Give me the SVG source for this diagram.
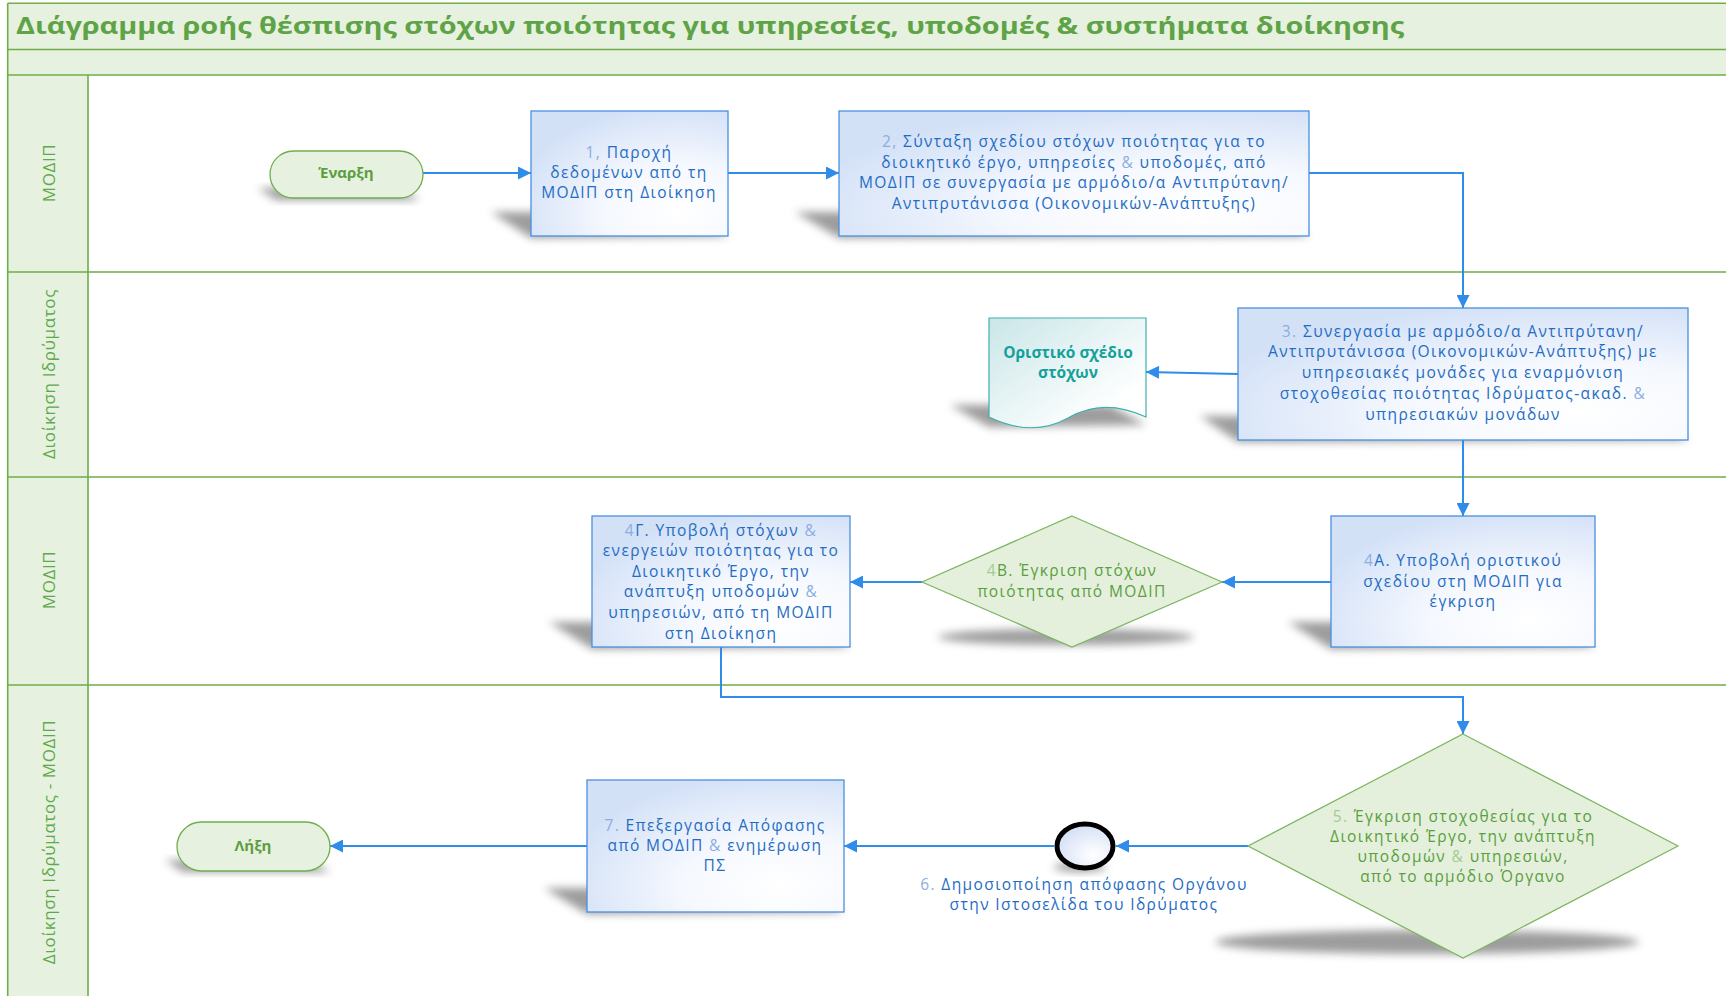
<svg xmlns="http://www.w3.org/2000/svg" width="1726" height="996" viewBox="0 0 1726 996">
<style>
.band{fill:#e6f1e0;stroke:none}
.gl{stroke:#70ad47;stroke-width:1.6;fill:none}
.title{font-family:"Open Sans","Liberation Sans",sans-serif;font-weight:bold;font-size:24px;fill:#5ea345}
.lane{font-family:"Open Sans","Liberation Sans",sans-serif;font-size:17px;fill:#5eaa4a;text-anchor:middle;letter-spacing:0.6px}
.box{fill:url(#boxg);stroke:#4a8fdf;stroke-width:1.3}
.bt{font-family:"Open Sans","Liberation Sans",sans-serif;font-size:15.5px;fill:#1f6dc4;text-anchor:middle;letter-spacing:1.4px}
.lb{fill:#8aaee0}
.dia{fill:#e4f0dc;stroke:#7cb560;stroke-width:1.2}
.dt{font-family:"Open Sans","Liberation Sans",sans-serif;font-size:15.5px;fill:#5b9e40;text-anchor:middle;letter-spacing:1.4px}
.lg{fill:#a3cc90}
.term{fill:#e6f1e0;stroke:#6fae4f;stroke-width:1.3}
.tt{font-family:"Open Sans","Liberation Sans",sans-serif;font-size:15px;font-weight:bold;fill:#5b9e40;text-anchor:middle}
.con{fill:none;stroke:#2f8ce8;stroke-width:2;marker-end:url(#ah)}
.sh{fill:#4d4d4d;opacity:0.55;filter:url(#blur)}
</style>
<defs>
<radialGradient id="boxg" cx="0.75" cy="0.8" r="0.85">
<stop offset="0" stop-color="#ffffff"/>
<stop offset="0.45" stop-color="#f5f8fe"/>
<stop offset="1" stop-color="#d3e1f7"/>
</radialGradient>
<linearGradient id="docg" x1="0" y1="0" x2="1" y2="1">
<stop offset="0" stop-color="#c9e6e8"/>
<stop offset="0.8" stop-color="#ffffff"/>
</linearGradient>
<radialGradient id="circg" cx="0.65" cy="0.7" r="0.8">
<stop offset="0" stop-color="#ffffff"/>
<stop offset="1" stop-color="#cfdcf5"/>
</radialGradient>
<filter id="blur" x="-50%" y="-50%" width="200%" height="200%"><feGaussianBlur stdDeviation="4"/></filter>
<marker id="ah" viewBox="0 0 10 10" refX="10" refY="5" markerWidth="14" markerHeight="13" markerUnits="userSpaceOnUse" orient="auto">
<path d="M0,0 L10,5 L0,10 Z" fill="#2f8ce8"/>
</marker>
</defs>

<g id="swimlanes">
<rect class="band" x="7.7" y="3.3" width="1718.3" height="71.7"/>
<rect class="band" x="7.7" y="75" width="80.3" height="921"/>
<path class="gl" d="M7.7,3.3 H1726 M7.7,49.5 H1726 M7.7,75 H1726 M7.7,272 H1726 M7.7,477 H1726 M7.7,685 H1726 M7.7,3.3 V996 M88,75 V996"/>
<text class="title" x="16" y="34" textLength="1388" lengthAdjust="spacingAndGlyphs">Διάγραμμα ροής θέσπισης στόχων ποιότητας για υπηρεσίες, υποδομές &amp; συστήματα διοίκησης</text>
<text class="lane" transform="translate(48,173) rotate(-90)" y="7">ΜΟΔΙΠ</text>
<text class="lane" transform="translate(48,374) rotate(-90)" y="7">Διοίκηση Ιδρύματος</text>
<text class="lane" transform="translate(48,580) rotate(-90)" y="7">ΜΟΔΙΠ</text>
<text class="lane" transform="translate(48,842) rotate(-90)" y="7">Διοίκηση Ιδρύματος - ΜΟΔΙΠ</text>
</g>

<g id="shadows">
<polygon class="sh" points="258,188 400,188 420,200 276,200"/>
<polygon class="sh" points="491,212 690,212 728,236 531,238"/>
<polygon class="sh" points="795,212 1270,212 1309,236 839,238"/>
<polygon class="sh" points="950,405 1110,405 1146,425 989,427"/>
<polygon class="sh" points="1200,416 1650,416 1688,440 1238,442"/>
<polygon class="sh" points="1288,622 1555,622 1595,647 1331,649"/>
<ellipse class="sh" cx="1066" cy="637" rx="128" ry="8"/>
<polygon class="sh" points="549,622 810,622 850,647 592,649"/>
<ellipse class="sh" cx="1427" cy="942" rx="212" ry="12"/>
<ellipse class="sh" cx="1080" cy="867" rx="26" ry="5"/>
<polygon class="sh" points="544,888 805,888 844,912 587,914"/>
<polygon class="sh" points="165,860 310,860 330,872 183,872"/>
</g>

<g id="connectors">
<path class="con" d="M423,173 H531"/>
<path class="con" d="M728,173 H839"/>
<path class="con" d="M1309,173 H1463 V308"/>
<path class="con" d="M1238,374 L1146,372"/>
<path class="con" d="M1463,440 V516"/>
<path class="con" d="M1331,582 H1222"/>
<path class="con" d="M922,582 H850"/>
<path class="con" d="M721,647 V697 H1463 V734"/>
<path class="con" d="M1248,846 H1116"/>
<path class="con" d="M1054,846 H844"/>
<path class="con" d="M587,846 H330"/>
</g>

<g id="start">
<rect class="term" x="270" y="151" width="153" height="47" rx="23.5"/>
<text class="tt" x="346" y="178">Έναρξη</text>
</g>

<g id="step1">
<rect class="box" x="531" y="111" width="197" height="125"/>
<text class="bt"><tspan x="629" y="158"><tspan class="lb">1,</tspan> Παροχή</tspan><tspan x="629" y="178">δεδομένων από τη</tspan><tspan x="629" y="198">ΜΟΔΙΠ στη Διοίκηση</tspan></text>
</g>

<g id="step2">
<rect class="box" x="839" y="111" width="470" height="125"/>
<text class="bt"><tspan x="1074" y="147"><tspan class="lb">2,</tspan> Σύνταξη σχεδίου στόχων ποιότητας για το</tspan><tspan x="1074" y="168">διοικητικό έργο, υπηρεσίες <tspan class="lb">&amp;</tspan> υποδομές, από</tspan><tspan x="1074" y="188">ΜΟΔΙΠ σε συνεργασία με αρμόδιο/α Αντιπρύτανη/</tspan><tspan x="1074" y="209">Αντιπρυτάνισσα (Οικονομικών-Ανάπτυξης)</tspan></text>
</g>

<g id="step3">
<rect class="box" x="1238" y="308" width="450" height="132"/>
<text class="bt"><tspan x="1463" y="337"><tspan class="lb">3.</tspan> Συνεργασία με αρμόδιο/α Αντιπρύτανη/</tspan><tspan x="1463" y="357">Αντιπρυτάνισσα (Οικονομικών-Ανάπτυξης) με</tspan><tspan x="1463" y="378">υπηρεσιακές μονάδες για εναρμόνιση</tspan><tspan x="1463" y="399">στοχοθεσίας ποιότητας Ιδρύματος-ακαδ. <tspan class="lb">&amp;</tspan></tspan><tspan x="1463" y="420">υπηρεσιακών μονάδων</tspan></text>
</g>

<g id="document">
<path d="M989,318 H1146 V417 C1118,404 1092,404 1068,418 C1045,431 1018,431 989,417 Z" fill="url(#docg)" stroke="#3fb0ad" stroke-width="1.2"/>
<text font-family="Open Sans, Liberation Sans, sans-serif" font-size="15.5" font-weight="bold" fill="#14a09a" text-anchor="middle"><tspan x="1068" y="358">Οριστικό σχέδιο</tspan><tspan x="1068" y="378">στόχων</tspan></text>
</g>

<g id="step4A">
<rect class="box" x="1331" y="516" width="264" height="131"/>
<text class="bt"><tspan x="1463" y="566"><tspan class="lb">4</tspan>Α. Υποβολή οριστικού</tspan><tspan x="1463" y="587">σχεδίου στη ΜΟΔΙΠ για</tspan><tspan x="1463" y="607">έγκριση</tspan></text>
</g>

<g id="step4B">
<polygon class="dia" points="1072,516 1222,582 1072,647 922,582"/>
<text class="dt"><tspan x="1072" y="576"><tspan class="lg">4</tspan>Β. Έγκριση στόχων</tspan><tspan x="1072" y="597">ποιότητας από ΜΟΔΙΠ</tspan></text>
</g>

<g id="step4G">
<rect class="box" x="592" y="516" width="258" height="131"/>
<text class="bt"><tspan x="721" y="536"><tspan class="lb">4</tspan>Γ. Υποβολή στόχων <tspan class="lb">&amp;</tspan></tspan><tspan x="721" y="556">ενεργειών ποιότητας για το</tspan><tspan x="721" y="577">Διοικητικό Έργο, την</tspan><tspan x="721" y="597">ανάπτυξη υποδομών <tspan class="lb">&amp;</tspan></tspan><tspan x="721" y="618">υπηρεσιών, από τη ΜΟΔΙΠ</tspan><tspan x="721" y="639">στη Διοίκηση</tspan></text>
</g>

<g id="step5">
<polygon class="dia" points="1463,734 1678,846 1463,958 1248,846"/>
<text class="dt"><tspan x="1463" y="822"><tspan class="lg">5.</tspan> Έγκριση στοχοθεσίας για το</tspan><tspan x="1463" y="842">Διοικητικό Έργο, την ανάπτυξη</tspan><tspan x="1463" y="862">υποδομών <tspan class="lg">&amp;</tspan> υπηρεσιών,</tspan><tspan x="1463" y="882">από το αρμόδιο Όργανο</tspan></text>
</g>

<g id="step6">
<ellipse cx="1085" cy="846" rx="28" ry="22" fill="url(#circg)" stroke="#000000" stroke-width="5"/>
<text class="bt"><tspan x="1084" y="890"><tspan class="lb">6.</tspan> Δημοσιοποίηση απόφασης Οργάνου</tspan><tspan x="1084" y="910">στην Ιστοσελίδα του Ιδρύματος</tspan></text>
</g>

<g id="step7">
<rect class="box" x="587" y="780" width="257" height="132"/>
<text class="bt"><tspan x="715" y="831"><tspan class="lb">7.</tspan> Επεξεργασία Απόφασης</tspan><tspan x="715" y="851">από ΜΟΔΙΠ <tspan class="lb">&amp;</tspan> ενημέρωση</tspan><tspan x="715" y="871">ΠΣ</tspan></text>
</g>

<g id="end">
<rect class="term" x="177" y="822" width="153" height="49" rx="24.5"/>
<text class="tt" x="253" y="851">Λήξη</text>
</g>
</svg>
